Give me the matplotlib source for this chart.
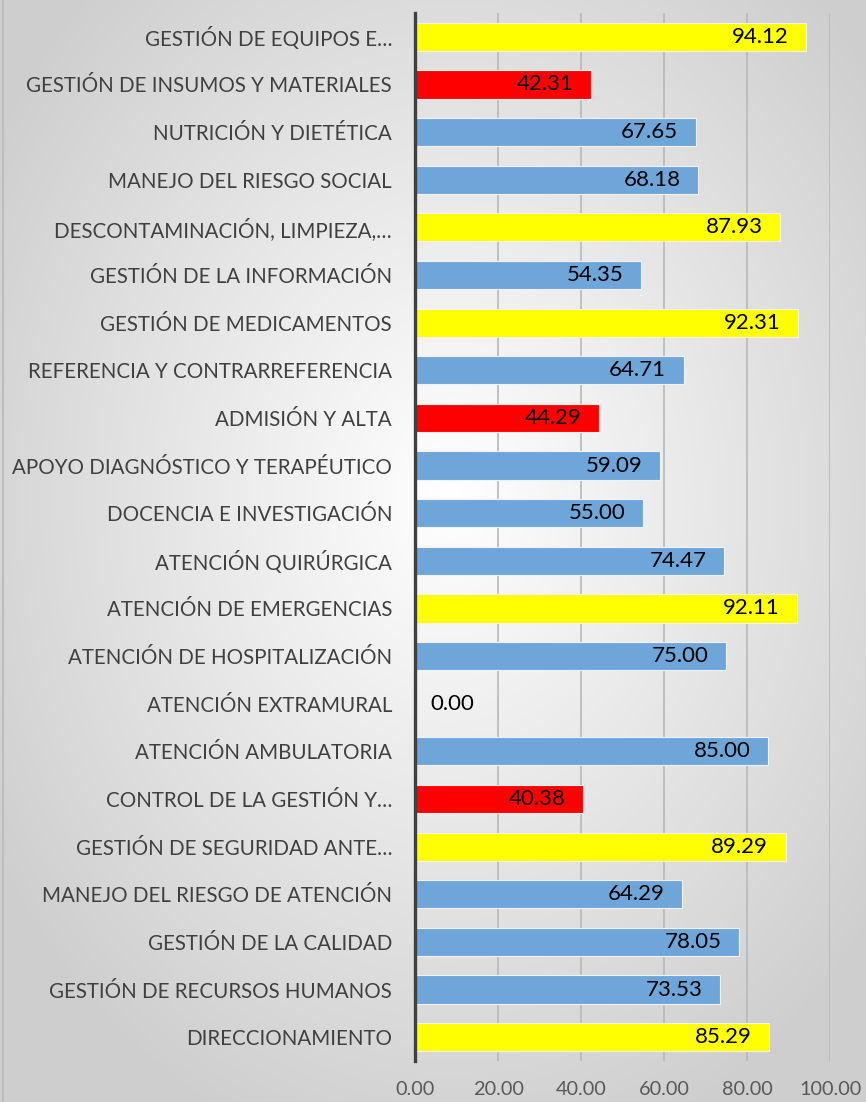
import numpy as np
import matplotlib
matplotlib.use("Agg")
import matplotlib.pyplot as plt

categories = [
    "GESTIÓN DE EQUIPOS E…",
    "GESTIÓN DE INSUMOS Y MATERIALES",
    "NUTRICIÓN Y DIETÉTICA",
    "MANEJO DEL RIESGO SOCIAL",
    "DESCONTAMINACIÓN, LIMPIEZA,…",
    "GESTIÓN DE LA INFORMACIÓN",
    "GESTIÓN DE MEDICAMENTOS",
    "REFERENCIA Y CONTRARREFERENCIA",
    "ADMISIÓN Y ALTA",
    "APOYO DIAGNÓSTICO Y TERAPÉUTICO",
    "DOCENCIA E INVESTIGACIÓN",
    "ATENCIÓN QUIRÚRGICA",
    "ATENCIÓN DE EMERGENCIAS",
    "ATENCIÓN DE HOSPITALIZACIÓN",
    "ATENCIÓN EXTRAMURAL",
    "ATENCIÓN AMBULATORIA",
    "CONTROL DE LA GESTIÓN Y…",
    "GESTIÓN DE SEGURIDAD ANTE…",
    "MANEJO DEL RIESGO DE ATENCIÓN",
    "GESTIÓN DE LA CALIDAD",
    "GESTIÓN DE RECURSOS HUMANOS",
    "DIRECCIONAMIENTO",
]
values = [94.12, 42.31, 67.65, 68.18, 87.93, 54.35, 92.31, 64.71, 44.29, 59.09,
          55.00, 74.47, 92.11, 75.00, 0.00, 85.00, 40.38, 89.29, 64.29, 78.05,
          73.53, 85.29]
x_ticks = [0, 20, 40, 60, 80, 100]


def bar_colour(v):
    if v > 85:
        return "#ffff00"
    if v < 45:
        return "#ff0000"
    return "#6fa6d9"


plt.rcParams["font.family"] = ["Lato", "DejaVu Sans"]

W, H = 866, 1102
fig = plt.figure(figsize=(W / 100, H / 100), dpi=100)

# radial grey-to-white backdrop
bg = fig.add_axes([0, 0, 1, 1], zorder=-10)
yy, xx = np.mgrid[0:H, 0:W]
cx, cy = 0.52 * W, 0.45 * H
d = np.sqrt(((xx - cx) / (0.62 * W)) ** 2 + ((yy - cy) / (0.62 * H)) ** 2)
d = np.clip(d, 0, 1)
shade = 1.0 - 0.19 * d
bg.imshow(np.dstack([shade, shade, shade]), extent=[0, W, H, 0], aspect="auto")
bg.plot([2.5, 2.5], [0, H], color="#bdbdbd", lw=1.5)
bg.set_xlim(0, W)
bg.set_ylim(H, 0)
bg.axis("off")

ax = fig.add_axes([415 / W, 1 - 1061 / H, (830 - 415) / W, (1061 - 13) / H])
ax.patch.set_alpha(0)

n = len(categories)
ypos = np.arange(n)
colours = [bar_colour(v) for v in values]
ax.barh(ypos, values, height=0.59, color=colours, edgecolor="#f2f2f2",
        linewidth=0.8, zorder=3)

for y, v in zip(ypos, values):
    if v > 0:
        ax.text(v - 4.2, y, f"{v:.2f}", ha="right", va="center",
                fontsize=16, color="black", zorder=4)
    else:
        ax.text(3.8, y, f"{v:.2f}", ha="left", va="center",
                fontsize=16, color="black", zorder=4)

ax.set_xlim(0, 100)
ax.set_ylim(n - 0.5, -0.5)
ax.set_yticks(ypos)
ax.set_yticklabels(categories, fontsize=14.8, color="#404040")
ax.set_xticks(x_ticks)
ax.set_xticklabels([f"{t:.2f}" for t in x_ticks], fontsize=14.3, color="#595959")
ax.tick_params(axis="y", length=0, pad=16.5)
ax.tick_params(axis="x", length=0, pad=14.5)

ax.grid(axis="x", color="#b8b8b8", linewidth=1.2, zorder=0)
ax.set_axisbelow(True)
for s in ["top", "right", "bottom"]:
    ax.spines[s].set_visible(False)
ax.spines["left"].set_color("#404040")
ax.spines["left"].set_linewidth(2.4)
ax.spines["left"].set_zorder(5)

fig.savefig("out.png", dpi=100)
